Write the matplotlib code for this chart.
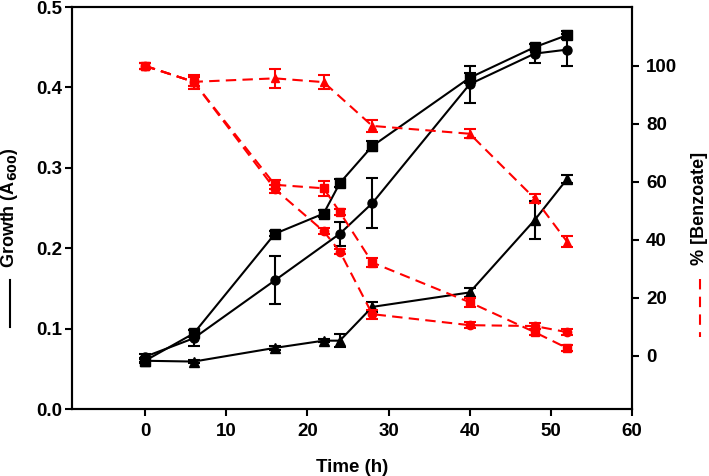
import numpy as np
import matplotlib.pyplot as plt
from matplotlib.lines import Line2D

plt.rcParams['font.family'] = ['Liberation Sans', 'DejaVu Sans']
plt.rcParams['font.weight'] = 'bold'

# ── Growth (A600), left axis ────────────────────────────────────────────────
t_sq = [0, 6, 16, 22, 24, 28, 40, 48, 52]
growth_sq = [0.060, 0.094, 0.218, 0.243, 0.281, 0.327, 0.412, 0.450, 0.465]
growth_sq_err = [0.003, 0.004, 0.003, 0.004, 0.005, 0.006, 0.006, 0.004, 0.005]

t_ci = [0, 6, 16, 24, 28, 40, 48, 52]
growth_ci = [0.065, 0.088, 0.160, 0.218, 0.256, 0.404, 0.442, 0.447]
growth_ci_err = [0.003, 0.010, 0.030, 0.015, 0.031, 0.023, 0.012, 0.020]

t_tr = [0, 6, 16, 22, 24, 28, 40, 48, 52]
growth_tr = [0.060, 0.059, 0.076, 0.085, 0.085, 0.127, 0.145, 0.235, 0.286]
growth_tr_err = [0.002, 0.002, 0.002, 0.002, 0.008, 0.006, 0.006, 0.024, 0.005]

# ── % [Benzoate], right axis ────────────────────────────────────────────────
tb_tr = [0, 6, 16, 22, 28, 40, 48, 52]
benz_tr = [100, 94.5, 95.7, 94.4, 79.3, 76.6, 54.3, 39.4]
benz_tr_err = [1.0, 1.5, 3.2, 2.3, 2.0, 1.5, 1.5, 2.0]

tb_sq = [0, 6, 16, 22, 24, 28, 40, 48, 52]
benz_sq = [100, 94.5, 59.0, 57.8, 49.6, 32.2, 18.5, 8.2, 2.7]
benz_sq_err = [1.0, 2.5, 1.5, 2.5, 1.0, 1.5, 1.5, 1.0, 1.0]

tb_ci = [0, 6, 16, 22, 24, 28, 40, 48, 52]
benz_ci = [100, 94.5, 57.5, 43.0, 36.0, 14.4, 10.6, 10.3, 8.2]
benz_ci_err = [1.0, 1.5, 1.5, 1.0, 1.0, 1.5, 1.0, 1.0, 1.0]

fig = plt.figure(figsize=(7.09, 4.76), dpi=100)
ax = fig.add_axes([72/709, 67/476, 560/709, 402/476])
ax2 = ax.twinx()

ebk = dict(color='black', lw=1.5, elinewidth=1.5, capsize=4, capthick=1.5)
ax.errorbar(t_sq, growth_sq, yerr=growth_sq_err, marker='s', ms=6.5, **ebk)
ax.errorbar(t_ci, growth_ci, yerr=growth_ci_err, marker='o', ms=6.5, **ebk)
ax.errorbar(t_tr, growth_tr, yerr=growth_tr_err, marker='^', ms=6.5, **ebk)

erd = dict(color='#ff0000', lw=1.5, elinewidth=1.5, capsize=4, capthick=1.5)
for tt, vv, ee, mk in [(tb_tr, benz_tr, benz_tr_err, '^'),
                       (tb_sq, benz_sq, benz_sq_err, 's'),
                       (tb_ci, benz_ci, benz_ci_err, 'o')]:
    lines = ax2.errorbar(tt, vv, yerr=ee, marker=mk, ms=6, **erd)
    lines[0].set_dashes((5, 3))

ax.set_xlim(-9, 60)
ax.set_ylim(0, 0.5)
ax2.set_ylim(-18.3, 120.3)
ax.set_xticks(range(0, 61, 10))
ax.set_yticks(np.arange(0, 0.51, 0.1))
ax.yaxis.set_major_formatter(plt.FormatStrFormatter('%.1f'))
ax2.set_yticks(range(0, 101, 20))

for a in (ax, ax2):
    for s in a.spines.values():
        s.set_linewidth(1.5)
    a.tick_params(width=1.5, length=5, labelsize=13.5, direction='out')
ax.tick_params(axis='x', pad=5)
ax.tick_params(axis='y', pad=2)
ax2.tick_params(axis='y', pad=5)

ax.set_xlabel('Time (h)', fontsize=13.5, fontweight='bold', labelpad=14)

# axis labels with line-style keys
fig.text(10/709, 1 - 208/476, 'Growth (A$_{\\mathbf{600}}$)', rotation=90,
         ha='center', va='center', fontsize=13, fontweight='bold')
fig.add_artist(Line2D([10/709, 10/709], [1 - 280/476, 1 - 327/476],
                      color='black', lw=1.5, transform=fig.transFigure))
fig.text(700/709, 1 - 208/476, '% [Benzoate]', rotation=90,
         ha='center', va='center', fontsize=13, fontweight='bold')
fig.add_artist(Line2D([700/709, 700/709], [1 - 279/476, 1 - 337/476],
                      color='#ff0000', lw=1.5, dashes=(5, 3.5),
                      transform=fig.transFigure))

fig.savefig('out.png', dpi=100)
